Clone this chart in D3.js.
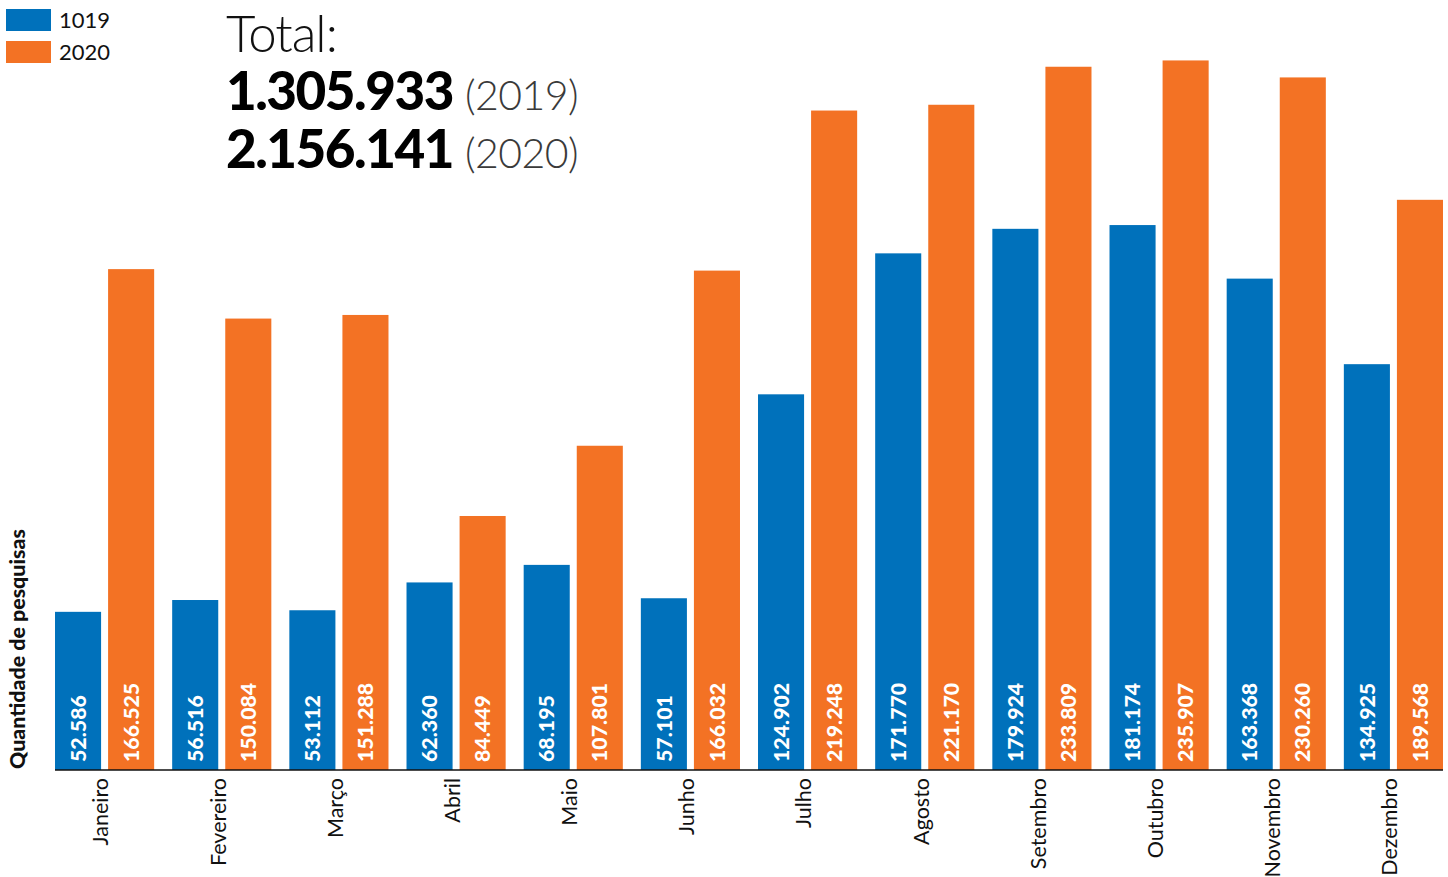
<!DOCTYPE html>
<html>
<head>
<meta charset="utf-8">
<script src="https://cdn.jsdelivr.net/npm/d3@7"></script>
<style>
  html, body { margin: 0; padding: 0; background: #fff; }
  svg { display: block; font-family: Lato, "Open Sans", sans-serif; }
</style>
</head>
<body>
<svg id="chart" width="1448" height="877"></svg>
<script>
// Monthly search counts, two years side by side
const months = ["Janeiro", "Fevereiro", "Março", "Abril", "Maio", "Junho",
  "Julho", "Agosto", "Setembro", "Outubro", "Novembro", "Dezembro"];
const seriesKeys = ["2019", "2020"];
const legendLabels = ["1019", "2020"];
const values2019 = [52586, 56516, 53112, 62360, 68195, 57101,
  124902, 171770, 179924, 181174, 163368, 134925];
const values2020 = [166525, 150084, 151288, 84449, 107801, 166032,
  219248, 221170, 233809, 235907, 230260, 189568];
const totals = [
  { value: "1.305.933", year: "(2019)" },
  { value: "2.156.141", year: "(2020)" }
];
const colors = ["#0071bb", "#f37224"];

const svg = d3.select("#chart");
const baseY = 770;

const fmt = d3.formatLocale({ decimal: ",", thousands: ".", grouping: [3], currency: ["", ""] }).format(",d");

const x0 = d3.scaleBand().domain(months).range([46, 1452]).paddingInner(0.1538).paddingOuter(0.0769);
const x1 = d3.scaleBand().domain(seriesKeys).range([0, x0.bandwidth()]).paddingInner(0.132);
const y = d3.scaleLinear().domain([0, 256000]).range([baseY, 0]);
const color = d3.scaleOrdinal().domain(seriesKeys).range(colors);

const rows = months.map((m, i) => ({
  month: m,
  vals: [{ key: "2019", v: values2019[i] }, { key: "2020", v: values2020[i] }]
}));

const groups = svg.append("g").selectAll("g").data(rows).join("g")
  .attr("transform", d => `translate(${x0(d.month)},0)`);

groups.selectAll("rect").data(d => d.vals).join("rect")
  .attr("x", d => x1(d.key))
  .attr("width", x1.bandwidth())
  .attr("y", d => y(d.v))
  .attr("height", d => y(0) - y(d.v))
  .attr("fill", d => color(d.key));

groups.selectAll("text.val").data(d => d.vals).join("text")
  .attr("class", "val")
  .attr("transform", d => `translate(${x1(d.key) + x1.bandwidth() / 2},${baseY - 8}) rotate(-90)`)
  .attr("dy", "0.36em")
  .attr("fill", "#fff")
  .attr("font-weight", 900)
  .attr("font-size", 21.3)
  .text(d => fmt(d.v));

// x axis: baseline plus rotated month names
const axis = svg.append("g").attr("transform", `translate(0,${baseY})`)
  .call(d3.axisBottom(x0).tickSize(0).tickPadding(0));
axis.select(".domain").attr("stroke", "#111").attr("stroke-width", 1.5)
  .attr("d", `M${x0(months[0])},0H${x0(months[11]) + x0.bandwidth()}`);
axis.selectAll(".tick text")
  .attr("font-family", "Lato, sans-serif")
  .attr("font-size", 21.5)
  .attr("fill", "#111")
  .attr("text-anchor", "end")
  .attr("transform", "translate(-4,8) rotate(-90)")
  .attr("x", 0).attr("y", 0).attr("dy", "0.36em");

// y axis title
svg.append("text")
  .attr("transform", `translate(17,${baseY - 1}) rotate(-90)`)
  .attr("dy", "0.36em")
  .attr("font-weight", 900)
  .attr("font-size", 21.4)
  .attr("fill", "#111")
  .text("Quantidade de pesquisas");

// legend
const legend = svg.append("g").selectAll("g").data(seriesKeys).join("g")
  .attr("transform", (d, i) => `translate(6,${9 + i * 32})`);
legend.append("rect").attr("width", 45).attr("height", 22).attr("fill", d => color(d));
legend.append("text")
  .attr("x", 53).attr("y", 19)
  .attr("font-size", 22).attr("fill", "#111")
  .text((d, i) => legendLabels[i]);

// totals block
svg.append("text")
  .attr("x", 226).attr("y", 52)
  .attr("font-weight", 300).attr("font-size", 51).attr("fill", "#111")
  .attr("letter-spacing", -1)
  .text("Total:");

const tot = svg.append("g").selectAll("text").data(totals).join("text")
  .attr("x", 226).attr("y", (d, i) => 110 + i * 58)
  .attr("letter-spacing", -1.5);
tot.append("tspan").attr("font-weight", 900).attr("font-size", 53).attr("fill", "#000").text(d => d.value);
tot.append("tspan").attr("dx", 12).attr("font-weight", 300).attr("font-size", 41).attr("fill", "#3a3a3a")
  .attr("letter-spacing", -0.5).text(d => d.year);
</script>
</body>
</html>
